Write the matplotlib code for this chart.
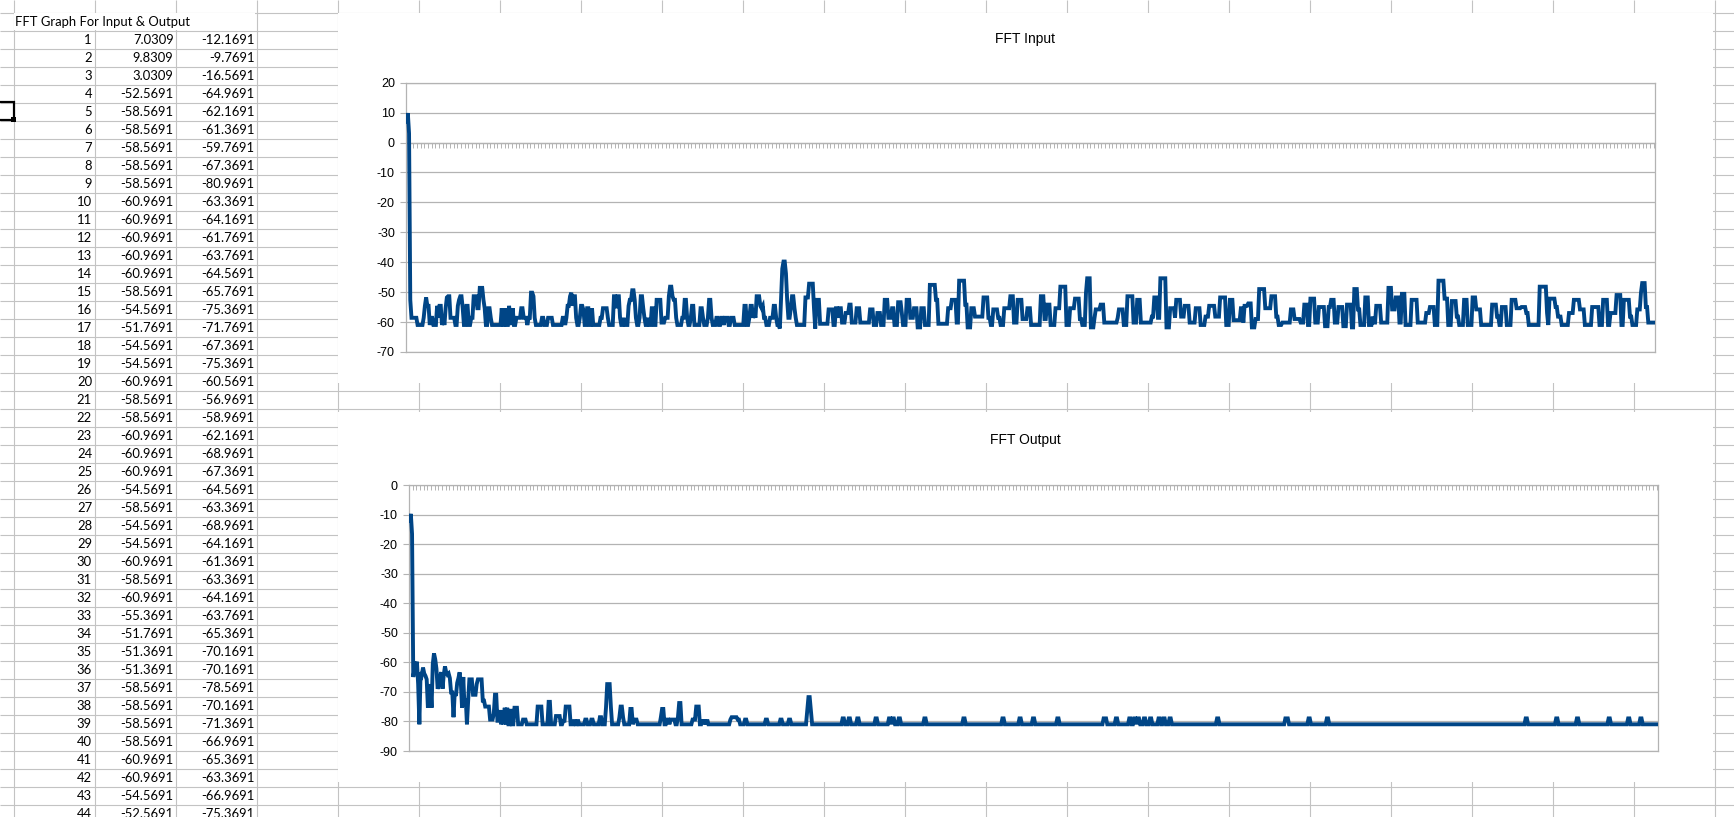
import numpy as np
import matplotlib
matplotlib.use("Agg")
import matplotlib.pyplot as plt
from matplotlib.patches import Rectangle

plt.rcParams['axes.unicode_minus'] = False

# table rows shown at the left (rows 1..44): first bins of the two spectra
row_no = list(range(1, 45))
tbl_in = [7.0309, 9.8309, 3.0309, -52.5691, -58.5691, -58.5691, -58.5691, -58.5691,
          -58.5691, -60.9691, -60.9691, -60.9691, -60.9691, -60.9691, -58.5691, -54.5691,
          -51.7691, -54.5691, -54.5691, -60.9691, -58.5691, -58.5691, -60.9691, -60.9691,
          -60.9691, -54.5691, -58.5691, -54.5691, -54.5691, -60.9691, -58.5691, -60.9691,
          -55.3691, -51.7691, -51.3691, -51.3691, -58.5691, -58.5691, -58.5691, -58.5691,
          -60.9691, -60.9691, -54.5691, -52.5691]
tbl_out = [-12.1691, -9.7691, -16.5691, -64.9691, -62.1691, -61.3691, -59.7691, -67.3691,
           -80.9691, -63.3691, -64.1691, -61.7691, -63.7691, -64.5691, -65.7691, -75.3691,
           -71.7691, -67.3691, -75.3691, -60.5691, -56.9691, -58.9691, -62.1691, -68.9691,
           -67.3691, -64.5691, -63.3691, -68.9691, -64.1691, -61.3691, -63.3691, -64.1691,
           -63.7691, -65.3691, -70.1691, -70.1691, -78.5691, -70.1691, -71.3691, -66.9691,
           -65.3691, -63.3691, -66.9691, -75.3691]

# rest of the input spectrum as (level dB, number of bins)
in_runs_a = [(-51.37,2),(-55.37,1),(-60.97,2),(-54.57,2),(-60.97,2),(-58.57,2),(-51.37,3),(-55.37,2),
    (-48.57,3),(-52.57,1),(-55.37,1),(-60.97,2),(-55.37,2),(-58.57,1),(-60.97,8),(-55.37,1),
    (-60.97,2),(-55.37,1),(-60.97,2),(-54.57,1),(-58.57,1),(-60.97,1),(-55.37,1),(-60.97,2),
    (-58.57,4),(-55.37,2),(-58.57,3),(-60.97,1),(-58.57,2),(-50.17,2),(-51.37,1),(-58.57,1),
    (-60.97,5),(-58.57,2),(-60.97,3),(-58.57,4),(-60.97,8),(-58.57,2),(-60.97,1),(-58.57,1),
    (-54.57,2),(-51.37,1),(-50.17,1),(-54.57,1),(-51.37,2),(-58.57,1),(-60.97,2),(-58.57,1),
    (-54.57,2),(-55.97,1),(-60.97,2),(-55.37,2),(-60.97,2),(-55.37,1),(-60.97,6),(-58.57,2),
    (-55.37,4),(-58.57,1),(-60.97,4),(-51.37,2),(-55.37,1),(-51.37,2),(-58.57,1),(-60.97,2),
    (-58.57,1),(-60.97,3),(-54.57,1),(-52.57,2),(-49.37,2),(-52.57,1),(-58.57,1),(-60.97,2),
    (-58.57,1),(-51.37,2),(-55.37,1),(-58.57,1),(-60.97,2),(-58.57,1),(-60.97,2),(-55.37,2),
    (-60.97,2),(-52.57,4),(-60.17,3),(-58.57,3),(-51.37,1),(-48.17,2),(-51.37,1),(-52.57,2),
    (-58.57,1),(-60.97,4),(-58.57,2),(-52.57,2),(-58.57,1),(-60.97,2),(-58.57,1),(-54.57,2),
    (-60.97,5),(-55.37,2),(-58.57,1),(-60.97,3),(-58.57,1),(-52.57,2),(-58.57,1),(-60.97,3),
    (-58.57,2),(-60.97,2),(-58.57,2),(-60.97,1),(-58.57,3),(-60.97,2),(-58.57,3),(-60.97,8),
    (-54.57,2),(-60.97,2),(-58.57,1),(-54.57,2),(-58.57,1),(-56.97,1),(-58.57,1),(-51.37,3),
    (-54.57,1),(-55.37,1),(-54.57,1),(-58.57,2),(-60.97,3),(-58.57,3),(-54.57,2),(-58.57,1),
    (-60.97,2),(-62.17,1),(-52.57,1),(-42.17,1),(-39.77,2),(-43.77,1),(-52.57,1),(-58.57,2),
    (-55.37,1),(-51.37,2),(-55.37,1),(-58.57,1),(-60.97,7)]
in_runs_b = [(-51.77,3),(-47.17,4),(-55.37,1),(-62.17,1),(-52.57,3),(-60.57,7),(-55.77,4),(-60.97,2),
    (-55.37,2),(-58.57,1),(-55.37,2),(-60.17,3),(-56.97,3),(-54.17,2),(-60.17,4),(-55.37,3),
    (-60.17,8),(-55.77,3),(-60.97,3),(-56.97,3),(-60.97,3),(-52.57,3),(-58.57,3),(-55.37,2),
    (-60.97,3),(-53.37,3),(-56.97,1),(-60.97,3),(-52.57,3),(-58.57,3),(-55.37,3),(-61.77,3),
    (-55.37,3),(-60.97,4),(-47.57,5),(-52.57,2),(-60.57,8),(-55.37,3),(-52.57,4),(-60.17,2),
    (-46.17,5),(-54.17,2),(-61.77,3),(-55.37,3),(-58.17,7),(-51.77,4),(-58.57,2),(-60.97,2),
    (-55.77,4),(-58.57,2),(-60.97,3),(-55.37,5),(-51.37,3),(-60.17,3),(-52.57,4),(-58.97,4),
    (-55.37,3),(-60.97,8),(-51.37,3),(-58.97,2),(-54.17,3),(-60.97,4),(-55.37,4),(-48.17,5),
    (-60.97,3),(-55.37,4),(-52.17,4),(-58.97,2),(-60.97,3),(-50.17,1),(-45.37,3),(-61.77,3),
    (-58.57,1),(-55.77,4),(-54.17,3),(-60.17,11),(-58.57,1),(-55.77,4),(-60.97,3),(-51.37,5),
    (-60.17,3),(-52.57,3),(-60.17,9),(-58.17,2),(-51.77,3),(-58.57,2),(-45.37,5),(-61.77,3),
    (-55.37,4),(-58.57,1),(-52.57,4),(-58.17,3),(-54.57,4),(-60.17,5),(-55.37,4),(-60.97,4),
    (-58.17,3),(-54.57,5),(-58.17,4),(-51.77,5),(-60.97,3),(-52.57,3),(-59.37,6),(-55.37,2),
    (-60.17,1),(-54.57,3),(-53.77,3),(-61.77,3),(-58.97,3),(-48.97,5),(-55.37,5),(-51.37,4),
    (-58.17,2),(-60.97,3),(-60.17,7),(-55.77,3),(-58.97,5)]
in_runs_c = [(-60.17,3),(-54.17,3),(-60.97,2),(-52.17,4),(-60.17,3),(-54.97,5),(-61.37,3),(-54.97,2),
    (-52.57,3),(-60.17,3),(-54.97,4),(-61.37,3),(-54.17,4),(-61.77,2),(-48.97,3),(-55.77,2),
    (-60.97,4),(-51.77,3),(-60.97,3),(-58.17,1),(-60.17,2),(-54.57,4),(-60.17,6),(-48.57,3),
    (-55.77,3),(-51.77,3),(-60.17,2),(-50.57,3),(-60.97,5),(-52.57,5),(-60.17,7),(-56.97,3),
    (-54.97,4),(-60.97,3),(-46.17,5),(-52.17,3),(-60.97,3),(-52.97,4),(-58.17,2),(-60.97,4),
    (-52.57,3),(-60.97,4),(-51.77,3),(-55.77,4),(-60.97,9),(-54.17,4),(-58.17,2),(-60.97,2),
    (-54.97,4),(-60.97,4),(-52.57,4),(-55.37,4),(-54.97,4),(-56.97,2),(-60.97,9),(-48.17,6),
    (-56.97,1),(-60.97,1),(-52.17,5),(-54.97,2),(-58.17,3),(-60.97,6),(-56.97,4),(-52.57,5),
    (-55.77,4),(-60.97,6),(-54.97,6),(-60.97,3),(-52.57,4),(-60.97,2),(-56.97,5),(-50.97,4),
    (-60.97,2),(-52.57,5),(-58.17,2),(-60.97,4),(-55.77,3),(-50.17,1),(-46.97,3),(-54.97,2),
    (-60.17,6)]

# rest of the output spectrum, same (level, bins) form
out_runs_a = [(-64.97,1),(-74.97,1),(-72.17,1),(-80.97,1),(-72.97,1),(-65.77,3),(-70.97,3),(-67.37,1),
    (-65.77,4),(-72.97,2),(-74.97,4),(-79.37,3),(-77.37,1),(-70.97,2),(-79.77,2),(-76.17,1),
    (-80.97,1),(-76.17,1),(-80.97,1),(-75.37,1),(-80.97,1),(-75.37,1),(-80.97,2),(-75.77,1),
    (-80.97,2),(-75.37,3),(-80.97,4),(-79.37,3),(-80.97,9),(-74.97,4),(-80.97,5),(-73.37,2),
    (-80.97,4),(-78.17,4),(-80.97,2),(-79.77,2),(-74.97,4),(-80.97,3),(-79.37,1),(-80.97,2),
    (-79.37,1),(-80.97,5),(-79.37,2),(-80.97,3),(-79.37,2),(-80.97,5),(-78.57,2),(-80.97,3),
    (-75.37,1),(-67.37,3),(-74.97,1),(-80.97,6),(-78.57,1),(-74.97,2),(-78.57,1),(-80.97,5),
    (-75.77,2),(-80.97,1),(-79.37,3),(-80.97,19),(-78.57,1),(-75.77,2),(-80.97,2),(-79.37,2),
    (-80.97,1),(-79.37,4),(-80.97,2),(-78.57,1),(-73.77,2),(-80.97,9),(-79.37,3),(-74.97,3),
    (-80.97,2),(-79.37,1),(-80.97,1),(-79.37,1),(-80.97,1),(-79.37,1),(-80.97,18),(-79.37,1),
    (-78.57,5),(-79.37,2),(-80.97,4),(-79.37,2),(-80.97,15),(-79.37,2),(-80.97,10),(-79.37,2),
    (-80.97,5),(-79.37,2),(-80.97,13),(-76.17,1),(-71.77,2),(-76.17,1)]
out_runs_b = [(-80.97,25),(-78.97,2),(-80.97,3),(-78.97,2),(-80.97,5),(-78.97,2),(-80.97,13),(-78.97,2),
    (-80.97,9),(-78.97,2),(-80.97,1),(-78.97,2),(-80.97,3),(-78.97,2),(-80.97,19),(-78.97,2),
    (-80.97,30),(-78.97,2),(-80.97,30),(-78.97,2),(-80.97,12),(-78.97,2),(-80.97,9),(-78.97,2),
    (-80.97,18),(-78.97,2),(-80.97,36),(-78.97,3),(-80.97,7),(-78.97,2),(-80.97,9),(-78.97,2),
    (-80.97,2),(-78.97,2),(-80.97,1),(-78.97,2),(-80.97,3),(-78.97,2),(-80.97,3),(-78.97,2),
    (-80.97,5),(-78.97,2),(-80.97,2),(-78.97,2),(-80.97,3),(-78.97,2),(-80.97,37),(-78.97,2),
    (-80.97,54),(-78.97,3),(-80.97,16),(-78.97,2),(-80.97,13),(-78.97,2),(-80.97,161),(-78.97,2),
    (-80.97,23),(-78.97,2),(-80.97,15),(-78.97,2),(-80.97,24),(-78.97,2),(-80.97,14),(-78.97,2),
    (-80.97,8),(-78.97,2),(-80.97,13)]


def expand(first, runs):
    lv = [r[0] for r in runs]
    ct = [r[1] for r in runs]
    return np.concatenate([np.array(first), np.repeat(lv, ct)])


fft_in = expand(tbl_in, in_runs_a + in_runs_b + in_runs_c)
fft_out = expand(tbl_out, out_runs_a + out_runs_b)

W, H = 1734, 817
fig = plt.figure(figsize=(W / 100, H / 100), dpi=100)

# ---- spreadsheet background ----
sheet = fig.add_axes([0, 0, 1, 1])
sheet.set_xlim(0, W)
sheet.set_ylim(H, 0)
sheet.axis('off')
grid_c = '#c3c3c3'
sheet.hlines(np.arange(12, H + 18, 18) + 0.5, 0, W, color=grid_c, lw=0.8, zorder=1)
sheet.vlines(np.arange(13, W, 81) + 0.5, 0, H, color=grid_c, lw=0.8, zorder=1)

# chart frames hide the grid
sheet.add_patch(Rectangle((338, 13), 1375, 370, fc='white', ec='none', zorder=2))
sheet.add_patch(Rectangle((338, 412), 1375, 370, fc='white', ec='none', zorder=2))
# title overflows into the next cells
sheet.add_patch(Rectangle((14, 13), 241, 16.5, fc='white', ec='none', zorder=2))

cell_font = dict(family='Lato', fontsize=9.4, color='black', zorder=3)
sheet.text(15, 21.5, 'FFT Graph For Input & Output', ha='left', va='center', **cell_font)
for k, (n, a, b) in enumerate(zip(row_no, tbl_in, tbl_out)):
    yc = 39.5 + 18 * k
    sheet.text(92, yc, str(n), ha='right', va='center', **cell_font)
    sheet.text(173.5, yc, f"{a:.4f}", ha='right', va='center', **cell_font)
    sheet.text(254.5, yc, f"{b:.4f}", ha='right', va='center', **cell_font)

# selected cell cursor
sheet.add_patch(Rectangle((-4, 102), 17.5, 17.5, fill=False, ec='black', lw=1.6, zorder=4))
sheet.add_patch(Rectangle((11, 117), 5, 5, fc='black', ec='none', zorder=4))

# ---- charts ----
line_c = '#004586'
ax_c = '#b3b3b3'


def style(ax, lo, hi):
    ax.set_facecolor('none')
    ax.set_ylim(lo, hi)
    ax.set_yticks(range(lo, hi + 1, 10))
    ax.grid(axis='y', color=ax_c, lw=0.9)
    ax.set_axisbelow(True)
    for s in ax.spines.values():
        s.set_color(ax_c)
        s.set_linewidth(0.9)
    ax.tick_params(axis='y', direction='out', length=4, width=0.8, color=ax_c,
                   labelcolor='black', labelsize=9, pad=4)
    for lab in ax.get_yticklabels():
        lab.set_family('Liberation Sans')


ax1 = fig.add_axes([406 / W, 1 - 352 / H, 1249 / W, 269.3 / H])
x1 = np.arange(len(fft_in))
ax1.plot(x1, fft_in, color=line_c, lw=2.8, solid_joinstyle='miter', zorder=3)
ax1.set_xlim(-0.5, len(fft_in) - 0.5)
style(ax1, -70, 20)
ax1.spines['bottom'].set_position(('data', 0))
ax1.axhline(-70, color=ax_c, lw=0.9, clip_on=False, zorder=1)
ax1.set_xticks(np.arange(-0.5, len(fft_in), 3))
ax1.set_xticklabels([])
ax1.tick_params(axis='x', direction='out', length=3.5, width=0.7, color=ax_c)

ax2 = fig.add_axes([409 / W, 1 - 751 / H, 1249 / W, 266 / H])
x2 = np.arange(len(fft_out))
ax2.plot(x2, fft_out, color=line_c, lw=2.8, solid_joinstyle='miter', zorder=3)
ax2.set_xlim(-0.5, len(fft_out) - 0.5)
style(ax2, -90, 0)
ax2.xaxis.tick_top()
ax2.set_xticks(np.arange(-0.5, len(fft_out), 3))
ax2.set_xticklabels([])
ax2.tick_params(axis='x', direction='in', length=3.5, width=0.7, color=ax_c)

fig.text(1025 / W, 1 - 39 / H, 'FFT Input', ha='center', va='center',
         fontsize=10, family='Liberation Sans')
fig.text(1025 / W, 1 - 440 / H, 'FFT Output', ha='center', va='center',
         fontsize=10, family='Liberation Sans')

fig.savefig('out.png', dpi=100)
